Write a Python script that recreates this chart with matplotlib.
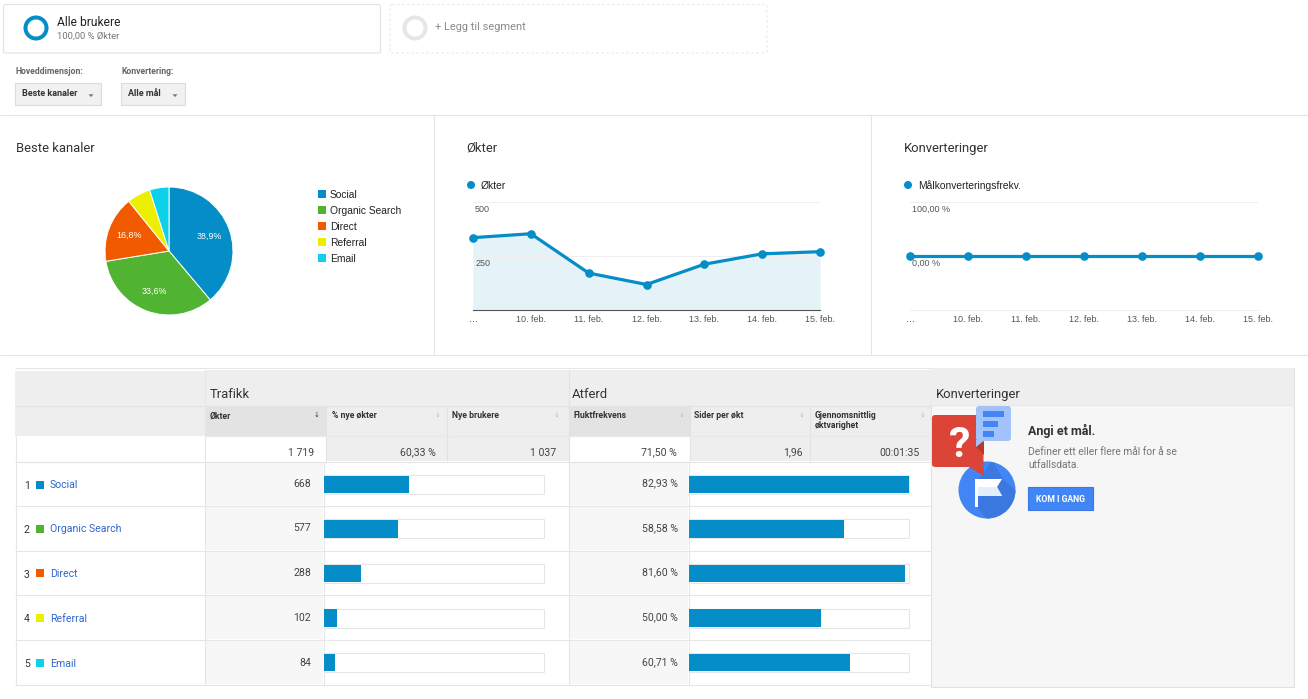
import matplotlib
matplotlib.use("Agg")
import matplotlib.pyplot as plt
from matplotlib.patches import Rectangle, FancyBboxPatch, Polygon, Circle, Wedge
from matplotlib.transforms import ScaledTranslation

# ---------- data ----------
channels = ["Social", "Organic Search", "Direct", "Referral", "Email"]
sessions = [668, 577, 288, 102, 84]
sessions_txt = ["668", "577", "288", "102", "84"]
bounce = [82.93, 58.58, 81.60, 50.00, 60.71]
bounce_txt = ["82,93 %", "58,58 %", "81,60 %", "50,00 %", "60,71 %"]
channel_colors = ["#058dc7", "#50b432", "#f25a00", "#edef00", "#0dd0ea"]
days = ["…", "10. feb.", "11. feb.", "12. feb.", "13. feb.", "14. feb.", "15. feb."]
daily_sessions = [335, 353, 171, 118, 212, 260, 270]
daily_conv = [0, 0, 0, 0, 0, 0, 0]
total_sessions = 1719
column_heads = ["Økter", "% nye økter", "Nye brukere", "Fluktfrekvens", "Sider per økt",
                "Gjennomsnittlig\nøktvarighet"]
totals = ["1 719", "60,33 %", "1 037", "71,50 %", "1,96", "00:01:35"]

# ---------- set-up ----------
W, H = 1308, 699
plt.rcParams["font.family"] = ["Roboto", "DejaVu Sans"]
fig = plt.figure(figsize=(W / 100, H / 100), dpi=100, facecolor="white")
bg = fig.add_axes([0, 0, 1, 1])
bg.set_xlim(0, W); bg.set_ylim(H, 0); bg.axis("off")


def px_axes(x0, y0, x1, y1):
    ax = fig.add_axes([x0 / W, 1 - y1 / H, (x1 - x0) / W, (y1 - y0) / H])
    ax.patch.set_alpha(0)
    return ax


def rect(x0, y0, x1, y1, fc, ec="none", lw=0, z=1, **kw):
    bg.add_patch(Rectangle((x0, y0), x1 - x0, y1 - y0, fc=fc, ec=ec, lw=lw, zorder=z, **kw))


def hline(y, x0, x1, c="#e6e6e6", lw=0.8, z=2):
    bg.plot([x0, x1], [y, y], color=c, lw=lw, zorder=z, solid_capstyle="butt")


def vline(x, y0, y1, c="#e6e6e6", lw=0.8, z=2):
    bg.plot([x, x], [y0, y1], color=c, lw=lw, zorder=z, solid_capstyle="butt")


def txt(x, y, s, size, color="#333333", weight="normal", ha="left", **kw):
    kw.setdefault("zorder", 5)
    return bg.text(x, y + size * 0.36, s, fontsize=size * 0.72, color=color, fontweight=weight,
                   ha=ha, va="baseline", **kw)


def tri(x, y, c="#777777"):
    bg.add_patch(Polygon([(x - 2.5, y - 1.2), (x + 2.5, y - 1.2), (x, y + 1.6)], fc=c, ec="none", zorder=5))


# ---------- segment boxes ----------
bg.add_patch(FancyBboxPatch((3.5, 4.5), 377, 48.5, boxstyle="round,pad=0,rounding_size=2",
                            fc="white", ec="#e2e2e2", lw=0.8))
bg.add_patch(FancyBboxPatch((390, 4.5), 377, 48.5, boxstyle="round,pad=0,rounding_size=2",
                            fc="white", ec="#e2e2e2", lw=0.6, ls=(0, (3, 3))))
bg.add_patch(Wedge((36, 28), 12.5, 0, 360, width=4, fc="#058dc7", ec="none", zorder=3))
bg.add_patch(Wedge((415, 28), 12.5, 0, 360, width=4, fc="#e6e6e6", ec="none", zorder=3))
txt(57, 22, "Alle brukere", 12, "#222222")
txt(57, 35, "100,00 % Økter", 9.5, "#777777")
txt(435, 26.5, "+ Legg til segment", 11, "#8a8a8a")

txt(15, 71, "Hoveddimensjon:", 8.6, "#666666", "bold")
txt(121, 71, "Konvertering:", 8.6, "#666666", "bold")
for x0, x1, label in [(15, 101, "Beste kanaler"), (121, 185, "Alle mål")]:
    rect(x0, 83, x1, 105, "#f1f1f1", "#dcdcdc", 0.8)
    txt(x0 + 7, 93, label, 9, "#333333", "bold")
    tri(x1 - 10, 95.5)

# ---------- separators ----------
hline(115, 0, W)
hline(355, 0, W)
vline(434, 115, 355)
vline(871, 115, 355)
txt(16, 147, "Beste kanaler", 13, "#333333")
txt(466, 147, "Økter", 13, "#333333")
txt(904, 147, "Konverteringer", 13, "#333333")

# ---------- pie ----------
R = 64
pie_ax = px_axes(169 - R - 1, 251 - R - 1, 169 + R + 1, 251 + R + 1)
wedges, _, autotexts = pie_ax.pie(
    sessions, colors=channel_colors, startangle=90, counterclock=False, radius=1,
    autopct=lambda p: f"{p:.1f}%".replace(".", ",") if p > 10 else "", pctdistance=0.67,
    wedgeprops=dict(edgecolor="white", linewidth=0.7),
    textprops=dict(color="white", fontsize=6.4, family=["Liberation Sans"]))
pie_ax.set_xlim(-1.016, 1.016); pie_ax.set_ylim(-1.016, 1.016)
for i, name in enumerate(channels):
    y = 194 + 16 * i
    rect(318, y - 4, 326, y + 4, channel_colors[i])
    bg.text(330, y + 3.6, name, fontsize=7.35, family=["Liberation Sans"], color="#222222", va="baseline")


# ---------- line charts ----------
def line_chart(x0, x1, values, ylim, yticks, ylabels, base_color, fill, lx, legend):
    ax = px_axes(x0, 202, x1, 310)
    xs = list(range(len(days)))
    if fill:
        ax.fill_between(xs, values, ylim[0], color="#e5f3f9", lw=0, zorder=1)
    ax.plot(xs, values, color="#058dc7", lw=2.3, marker="o", ms=5.2, clip_on=False, zorder=4)
    ax.set_xlim(0, len(days) - 1); ax.set_ylim(*ylim)
    ax.set_xticks(xs); ax.set_xticklabels(days)
    ax.set_yticks(yticks); ax.set_yticklabels(ylabels, ha="left", va="top")
    ax.tick_params(axis="x", length=0, pad=3.5, labelsize=6.5, labelcolor="#555555")
    ax.tick_params(axis="y", length=0, pad=-1.5, labelsize=6.5, labelcolor="#555555")
    for lab in ax.get_xticklabels() + ax.get_yticklabels():
        lab.set_family(["Liberation Sans"])
    for lab in ax.get_yticklabels():
        lab.set_transform(lab.get_transform() + ScaledTranslation(0, -3 / 100, fig.dpi_scale_trans))
    ax.grid(axis="y", color="#efefef", lw=0.8)
    ax.set_axisbelow(False)
    for s in ["top", "left", "right"]:
        ax.spines[s].set_visible(False)
    ax.spines["bottom"].set_color(base_color); ax.spines["bottom"].set_linewidth(0.8)
    bg.add_patch(Circle((lx, 185), 4, fc="#058dc7", ec="none", zorder=4))
    bg.text(lx + 10, 188.6, legend, fontsize=7.35, family=["Liberation Sans"], color="#222222", va="baseline")


line_chart(473, 820, daily_sessions, (0, 500), [250, 500], ["250", "500"], "#555555", True, 471, "Økter")
line_chart(910, 1258, daily_conv, (-100, 100), [0, 100], ["0,00 %", "100,00 %"], "#eeeeee", False, 908,
           "Målkonverteringsfrekv.")

# ---------- table ----------
hline(368, 15, 931, "#e6e6e6", 0.8)
rect(15, 371, 205, 436, "#eeeeee")
hline(406, 15, 205, "#e4e4e4")
rect(205, 370, 569, 436, "#eeeeee")
rect(569, 370, 931, 436, "#eeeeee")
vline(569, 370, 461, "#e2e2e2")
hline(405.5, 205, 931, "#e2e2e2")
txt(210, 393, "Trafikk", 13, "#333333")
txt(572, 393, "Atferd", 13, "#333333")

col_x = [205, 326, 447, 569, 690, 810, 931]
rect(col_x[0], 406, col_x[1], 436, "#e3e3e3")
rect(col_x[3], 406, col_x[4], 436, "#e3e3e3")
text_x = [210, 332, 452, 573, 694, 815]
arrow_x = [317, 438, 557, 682, 802, 923]
total_right = [314, 436, 556.5, 677, 803, 920]
for i, head in enumerate(column_heads):
    lines = head.split("\n")
    for j, line in enumerate(lines):
        txt(text_x[i], 415 + 10 * j, line, 8.7, "#333333", "bold")
    txt(arrow_x[i], 414, "↓", 7, "#333333" if i == 0 else "#bbbbbb", ha="center", family=["DejaVu Sans"])
    white = i in (0, 3)
    rect(col_x[i], 436, col_x[i + 1], 461, "white" if white else "#eeeeee")
    txt(total_right[i], 451.2 if "," in totals[i] else 452, totals[i], 10.5, "#444444", ha="right")
    if i > 0:
        vline(col_x[i], 406, 461, "#e2e2e2")
hline(436, 205, 931, "#e8e8e8")
hline(461.5, 15, 931, "#e4e4e4")

row_edges = [462, 506.2, 550.5, 595, 640.4, 685]
for i in range(5):
    y0, y1 = row_edges[i], row_edges[i + 1]
    yc = (y0 + y1) / 2
    rect(205, y0 + 1, 323, y1 - 1, "#f7f7f7")
    rect(569, y0 + 1, 688, y1 - 1, "#f7f7f7")
    hline(y1, 15, 931, "#e6e6e6")
    txt(24, yc + 1, str(i + 1), 10.5, "#333333")
    rect(36, yc - 3.5, 44, yc + 4.5, channel_colors[i])
    txt(50, yc + 0.3, channels[i], 10.5, "#2f66d0")
    txt(311, yc - 0.7, sessions_txt[i], 10.5, "#444444", ha="right")
    txt(678, yc - 1.2, bounce_txt[i], 10.5, "#444444", ha="right")
vline(15.5, 436, 685, "#e6e6e6")
vline(205, 370, 685, "#e6e6e6")
vline(323.5, 462, 685, "#e6e6e6")
vline(568.5, 462, 685, "#e6e6e6")
vline(688.5, 462, 685, "#e6e6e6")


def bar_col(x0, x1, values, xmax):
    ax = px_axes(x0, row_edges[0], x1, row_edges[-1])
    ys = list(range(len(values)))
    ax.barh(ys, [xmax] * len(values), height=0.43, fc="white", ec="#e6e6e6", lw=0.8, clip_on=False)
    ax.barh(ys, values, height=0.39, color="#058dc7", lw=0)
    ax.set_xlim(0, xmax); ax.set_ylim(4.5, -0.5)
    ax.axis("off")


bar_col(324, 543.5, sessions, total_sessions)
bar_col(689, 908.5, bounce, max(bounce))

# ---------- conversions panel ----------
rect(931, 368, 1294, 687, "#f6f6f6", "#e2e2e2", 0.8)
rect(931, 368, 1294, 405, "#eeeeee", "none")
hline(405, 931, 1294, "#e8e8e8")
txt(936, 393, "Konverteringer", 13, "#333333")
# goal icon
disc = Circle((987, 490), 28.5, fc="#4285f4", ec="none", zorder=3)
bg.add_patch(disc)
shade = Polygon([(983, 475), (992, 460), (1003, 479), (1018, 493), (1018, 520), (988, 520), (977, 507), (978, 479)],
                fc="#3b78e0", ec="none", zorder=3.5)
bg.add_patch(shade)
shade.set_clip_path(disc)
bg.add_patch(Polygon([(975, 479), (1002, 479), (997, 487), (1002, 496), (978, 496), (978, 507), (975, 507)],
                     fc="white", ec="none", zorder=4))
bg.add_patch(Polygon([(978, 487), (997, 487), (1002, 496), (978, 496)], fc="#e1eefc", ec="none", zorder=4.2))
bg.add_patch(FancyBboxPatch((932, 415), 51.5, 52, boxstyle="round,pad=0,rounding_size=3",
                            fc="#db4437", ec="none", zorder=5))
bg.add_patch(Polygon([(969, 466.5), (983.5, 466.5), (983.5, 475.5)], fc="#db4437", ec="none", zorder=5))
bg.add_patch(Polygon([(976, 447), (984, 441), (984, 455)], fc="#b93a2d", ec="none", zorder=5.5))
bg.add_patch(FancyBboxPatch((976, 406), 35, 35, boxstyle="round,pad=0,rounding_size=3",
                            fc="#a1c2fa", ec="none", zorder=6))
bg.add_patch(Polygon([(976, 440), (984, 440.5), (976, 447)], fc="#a1c2fa", ec="none", zorder=6))
for y0, x1 in [(411, 1004), (420.5, 998), (431, 994)]:
    rect(983, y0, x1, y0 + 6, "#4285f4", z=7)
bg.text(959.5, 457, "?", fontsize=31, color="white", fontweight="bold", ha="center", va="baseline", zorder=8)
txt(1028, 430, "Angi et mål.", 12.5, "#333333", "bold")
txt(1028, 451, "Definer ett eller flere mål for å se", 10.2, "#757575")
txt(1028, 464, "utfallsdata.", 10.2, "#757575")
rect(1028, 487, 1093, 510, "#4285f4", "#3b78e7", 0.8)
txt(1060.5, 498.5, "KOM I GANG", 8.7, "white", "bold", ha="center")

fig.savefig("out.png", dpi=100, facecolor="white")
